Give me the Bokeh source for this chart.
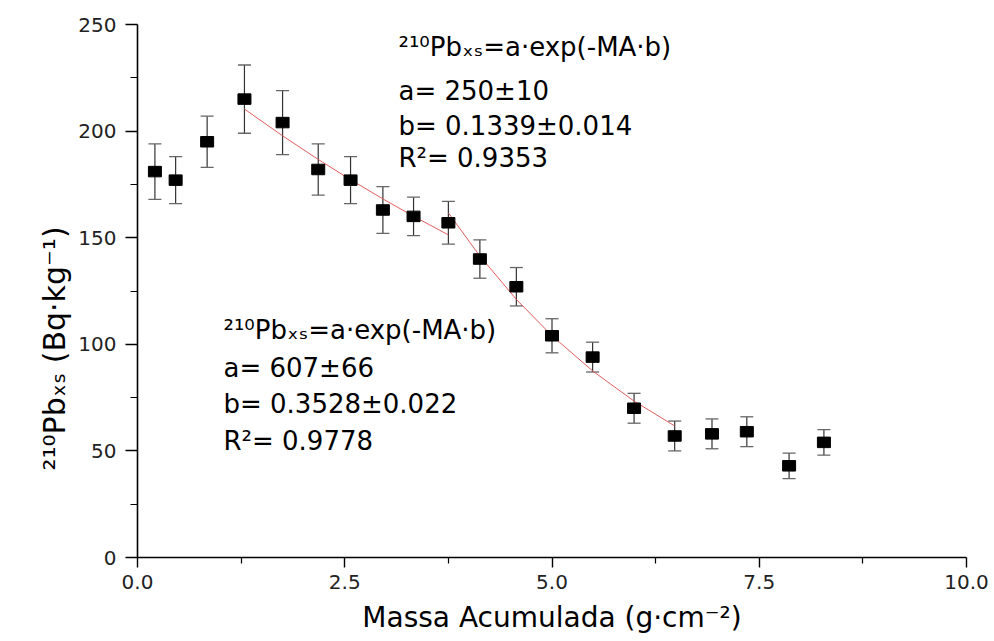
import numpy as np
from bokeh.plotting import figure
from bokeh.models import (Range1d, FixedTicker, PrintfTickFormatter, Label, Title,
                          Whisker, TeeHead, ColumnDataSource)
from bokeh.embed import file_html
from bokeh.resources import INLINE

# ---- data ----
massa = [0.21, 0.46, 0.84, 1.29, 1.75, 2.18, 2.57, 2.96, 3.33, 3.75,
         4.13, 4.57, 5.00, 5.49, 5.99, 6.48, 6.93, 7.35, 7.86, 8.28]
pb210 = [181, 177, 195, 215, 204, 182, 177, 163, 160, 157,
         140, 127, 104, 94, 70, 57, 58, 59, 43, 54]
erro = [13, 11, 12, 16, 15, 12, 11, 11, 9, 10,
        9, 9, 8, 7, 7, 7, 7, 7, 6, 6]

# fit parameters (shown on the chart)
fit1_a, fit1_b = 250.0, 0.1339
fit2_a, fit2_b = 607.0, 0.3528
fit1_range = (3, 10)    # indices of points used by fit 1
fit2_range = (9, 16)    # indices of points used by fit 2

x_ticks = [0.0, 2.5, 5.0, 7.5, 10.0]
x_minor = [1.25, 3.75, 6.25, 8.75]
y_ticks = [0, 50, 100, 150, 200, 250]
y_minor = [25, 75, 125, 175, 225]

FONT = "DejaVu Sans"

p = figure(width=990, height=641, x_range=Range1d(0, 10), y_range=Range1d(0, 250),
           output_backend="svg", toolbar_location=None,
           min_border_left=137, min_border_right=24, min_border_top=24,
           min_border_bottom=84)
p.outline_line_color = None
p.grid.visible = False
p.background_fill_color = "white"

for ax in (p.xaxis[0], p.yaxis[0]):
    ax.axis_line_color = "black"
    ax.axis_line_width = 1.6
    ax.major_tick_line_color = "black"
    ax.minor_tick_line_color = "black"
    ax.major_tick_line_width = 1.4
    ax.minor_tick_line_width = 1.2
    ax.major_tick_in = 0
    ax.minor_tick_in = 0
    ax.major_label_text_font = FONT
    ax.major_label_text_font_size = "20px"
    ax.major_label_text_color = "#222222"
    ax.axis_label_text_font = FONT
    ax.axis_label_text_font_style = "normal"
    ax.axis_label_text_color = "black"

p.xaxis.ticker = FixedTicker(ticks=x_ticks, minor_ticks=x_minor)
p.xaxis.formatter = PrintfTickFormatter(format="%.1f")
p.xaxis.major_tick_out = 10
p.xaxis.minor_tick_out = 6
p.xaxis.major_label_standoff = 7
p.xaxis.axis_label = "Massa Acumulada (g·cm⁻²)"
p.xaxis.axis_label_text_font_size = "28px"
p.xaxis.axis_label_standoff = 9

p.yaxis.ticker = FixedTicker(ticks=y_ticks, minor_ticks=y_minor)
p.yaxis.formatter = PrintfTickFormatter(format="%d")
p.yaxis.major_tick_out = 12
p.yaxis.minor_tick_out = 7
p.yaxis.major_label_standoff = 9

# y-axis title (as a side title so it can be shifted like the reference)
p.add_layout(Title(text="²¹⁰Pbₓₛ (Bq·kg⁻¹)", align="left", offset=87, standoff=8,
                   text_font=FONT, text_font_size="30px", text_font_style="normal",
                   text_color="black"), "left")

# error bars
src = ColumnDataSource(dict(
    x=massa, y=pb210,
    upper=[v + e for v, e in zip(pb210, erro)],
    lower=[v - e for v, e in zip(pb210, erro)]))
p.add_layout(Whisker(source=src, base="x", upper="upper", lower="lower",
                     line_color="#333333", line_width=1.2,
                     upper_head=TeeHead(size=13, line_color="#666666", line_width=1.3),
                     lower_head=TeeHead(size=13, line_color="#666666", line_width=1.3)))

# fit curves evaluated at the fitted points
mx = np.array(massa)
i0, i1 = fit1_range
p.line(mx[i0:i1], fit1_a * np.exp(-fit1_b * mx[i0:i1]), line_color="#e35d5d", line_width=1)
i0, i1 = fit2_range
p.line(mx[i0:i1], fit2_a * np.exp(-fit2_b * mx[i0:i1]), line_color="#e35d5d", line_width=1)

# markers
p.rect(x="x", y="y", width=13, height=10.5, width_units="screen", height_units="screen",
       fill_color="black", line_color="black", source=src)

def lab(txt, x, y, size="26px", **kw):
    p.add_layout(Label(x=x, y=y, x_units="screen", y_units="screen", text=txt,
                       text_font=FONT, text_font_size=size, text_color="black",
                       text_baseline="alphabetic", **kw))

# fit 1 annotation
lab("²¹⁰Pbₓₛ=a·exp(-MA·b)", 261, 511)
lab("a= 250±10", 261, 467)
lab("b= 0.1339±0.014", 261, 432)
lab("R²= 0.9353", 261, 400)

# fit 2 annotation
lab("²¹⁰Pbₓₛ=a·exp(-MA·b)", 86, 228)
lab("a= 607±66", 86, 190)
lab("b= 0.3528±0.022", 86, 154)
lab("R²= 0.9778", 86, 117)

open("out.html", "w").write(file_html(p, INLINE))
